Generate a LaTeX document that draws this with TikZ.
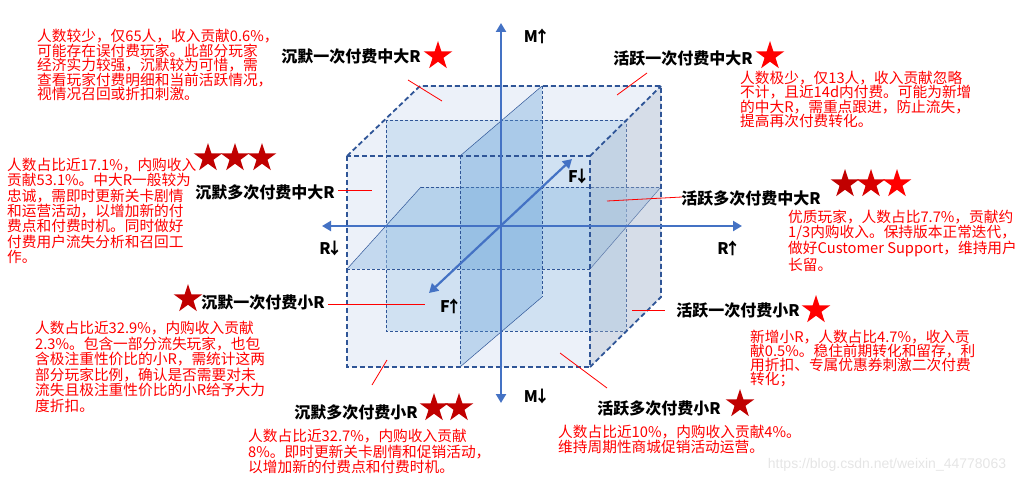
\documentclass[tikz,border=0pt]{standalone}
\usepackage{fontspec}
\setmainfont{Noto Sans CJK SC}
\newfontfamily\wmfont{Liberation Sans}
\usetikzlibrary{arrows.meta,shapes.geometric}
\definecolor{axisblue}{HTML}{4472C4}
\definecolor{edgeblue}{HTML}{2F5597}
\definecolor{darkred}{HTML}{C00000}
\definecolor{midred}{HTML}{D80000}
\definecolor{cubefill}{HTML}{DAE3F3}
\definecolor{sidefill}{HTML}{ADB9CA}
\definecolor{innerfill}{HTML}{BDD7EE}
\definecolor{hplanefill}{HTML}{9DC3E6}
\definecolor{vplanefill}{HTML}{5B9BD5}
\tikzset{
  note/.style={anchor=north west, inner sep=0pt, align=left, text=red,
    font=\fontsize{14.7}{#1}\selectfont},
  cat/.style={inner sep=0pt, font=\fontsize{16}{16}\selectfont\bfseries},
  axl/.style={inner sep=0pt, font=\fontsize{16}{16}\selectfont\bfseries},
  rstar/.style={shape=star, star points=5, star point ratio=2.618,
    minimum size=30pt, inner sep=0pt, fill=#1, draw=none},
  axisline/.style={draw=axisblue, line width=2.6pt,
    {Triangle[length=9pt,width=10pt]}-{Triangle[length=9pt,width=10pt]}},
  edge/.style={draw=edgeblue, line width=1.8pt, dash pattern=on 5pt off 3pt},
  thinedge/.style={draw=edgeblue, line width=0.6pt, dash pattern=on 3pt off 2pt},
  leader/.style={draw=red, line width=0.8pt},
}
\begin{document}
\begin{tikzpicture}[x=1pt,y=-1pt]
\useasboundingbox (0,0) rectangle (1032,484);
% cube corners
\coordinate (FTL) at (347,156);
\coordinate (FTR) at (590,156);
\coordinate (FBR) at (590,367);
\coordinate (FBL) at (347,367);
\coordinate (BTL) at (420,86);
\coordinate (BTR) at (661,86);
\coordinate (BBR) at (661,297);
% inner plane (F middle)
\coordinate (ITL) at (386,120);
\coordinate (ITR) at (626,120);
\coordinate (IBR) at (626,331);
\coordinate (IBL) at (386,331);
% horizontal plane
\coordinate (HFL) at (347,269);
\coordinate (HFR) at (590,269);
\coordinate (HBR) at (661,187);
\coordinate (HBL) at (421,187);
% vertical plane
\coordinate (VFT) at (460,156);
\coordinate (VBT) at (542,86);
\coordinate (VBB) at (542,297);
\coordinate (VFB) at (460,367);

% cube silhouette
\fill[cubefill, fill opacity=0.5] (FTL) -- (BTL) -- (BTR) -- (BBR) -- (FBR) -- (FBL) -- cycle;
% inner plane
\fill[innerfill, fill opacity=0.6] (ITL) rectangle (IBR);
\draw[thinedge] (ITL) rectangle (IBR);
% horizontal plane
\fill[hplanefill, fill opacity=0.5] (HFL) -- (HBL) -- (HBR) -- (HFR) -- cycle;
\draw[thinedge] (HFL) -- (HFR);
\draw[thinedge] (HBL) -- (HBR);
\draw[draw=edgeblue, line width=0.5pt] (HFL) -- (HBL);
\draw[draw=edgeblue, line width=0.5pt] (HFR) -- (HBR);
% vertical plane
\fill[vplanefill, fill opacity=0.32] (VFT) -- (VBT) -- (VBB) -- (VFB) -- cycle;
\draw[thinedge] (VFT) -- (VFB);
\draw[thinedge] (VBT) -- (VBB);
\draw[draw=edgeblue, line width=0.5pt] (VFT) -- (VBT);
\draw[draw=edgeblue, line width=0.5pt] (VFB) -- (VBB);
% right side face
\fill[sidefill, fill opacity=0.35] (FTR) -- (BTR) -- (BBR) -- (FBR) -- cycle;
% cube edges
\draw[edge] (FTL) rectangle (FBR);
\draw[edge] (FTL) -- (BTL) -- (BTR) -- (BBR) -- (FBR);
\draw[edge] (FTR) -- (BTR);

% axes
\coordinate (mtop) at (501,23);
\coordinate (mbot) at (501,403);
\coordinate (rleft) at (322,226);
\coordinate (rright) at (742,226);
\coordinate (ftop) at (572,159);
\coordinate (fbot) at (429,293);
\draw[axisline] (mbot) -- (mtop);
\draw[axisline] (rleft) -- (rright);
\draw[axisline, line width=2.2pt] (fbot) -- (ftop);

\node[axl] (Mup) at (537,36) {M\kern-4pt↑};
\node[axl] (Mdn) at (537,396) {M\kern-4pt↓};
\node[axl] (Rdn) at (331,248) {R\kern-4pt↓};
\node[axl] (Rup) at (729,248) {R\kern-4pt↑};
\node[axl] (Fdn) at (579,176) {F\kern-4pt↓};
\node[axl] (Fup) at (451,306) {F\kern-4pt↑};

% category labels
\node[cat] (c1) at (351,57) {沉默一次付费中大R};
\node[cat] (c2) at (683,58) {活跃一次付费中大R};
\node[cat] (c3) at (265,192) {沉默多次付费中大R};
\node[cat] (c4) at (751,198) {活跃多次付费中大R};
\node[cat] (c5) at (263,303) {沉默一次付费小R};
\node[cat] (c6) at (738,310) {活跃一次付费小R};
\node[cat] (c7) at (356,412) {沉默多次付费小R};
\node[cat] (c8) at (659,408) {活跃多次付费小R};

% stars
\node[rstar=red] (s1) at (438,56) {};
\node[rstar=red] (s2) at (770,56) {};
\node[rstar=darkred] (s3a) at (208,158) {};
\node[rstar=darkred] (s3b) at (235,158) {};
\node[rstar=darkred] (s3c) at (262,158) {};
\node[rstar=darkred] (s4a) at (845,184) {};
\node[rstar=midred] (s4b) at (871,184) {};
\node[rstar=red] (s4c) at (897,184) {};
\node[rstar=darkred] (s5) at (188,299) {};
\node[rstar=red] (s6) at (816,310) {};
\node[rstar=darkred] (s7a) at (434,408) {};
\node[rstar=darkred] (s7b) at (459,408) {};
\node[rstar=darkred] (s8) at (740,404) {};

% leader lines
\coordinate (l1a) at (408,80);  \coordinate (l1b) at (442,101);
\coordinate (l2a) at (647,73);  \coordinate (l2b) at (617,95);
\coordinate (l3a) at (338,190); \coordinate (l3b) at (372,190);
\coordinate (l4a) at (607,201); \coordinate (l4b) at (682,197);
\coordinate (l5a) at (328,304); \coordinate (l5b) at (425,304);
\coordinate (l6a) at (632,310); \coordinate (l6b) at (665,310);
\coordinate (l7a) at (387,360); \coordinate (l7b) at (372,385);
\coordinate (l8a) at (560,353); \coordinate (l8b) at (607,388);
\draw[leader] (l1a) -- (l1b);
\draw[leader] (l2a) -- (l2b);
\draw[leader] (l3a) -- (l3b);
\draw[leader] (l4a) -- (l4b);
\draw[leader] (l5a) -- (l5b);
\draw[leader] (l6a) -- (l6b);
\draw[leader] (l7a) -- (l7b);
\draw[leader] (l8a) -- (l8b);

% notes
\node[note=14.5] (n1) at (37,29) {人数较少，仅65人，收入贡献0.6\%，\\可能存在误付费玩家。此部分玩家\\经济实力较强，沉默较为可惜，需\\查看玩家付费明细和当前活跃情况，\\视情况召回或折扣刺激。};
\node[note=14.3] (n2) at (740,71) {人数极少，仅13人，收入贡献忽略\\不计，且近14d内付费。可能为新增\\的中大R，需重点跟进，防止流失，\\提高再次付费转化。};
\node[note=15.3] (n3) at (7,158) {人数占比近17.1\%，内购收入\\贡献53.1\%。中大R一般较为\\忠诚，需即时更新关卡剧情\\和运营活动，以增加新的付\\费点和付费时机。同时做好\\付费用户流失分析和召回工\\作。};
\node[note=13.6] (n4) at (788,210) {优质玩家，人数占比7.7\%，贡献约\\1/3内购收入。保持版本正常迭代，\\做好Customer Support，维持用户\\长留。};
\node[note=15.5] (n5) at (35,321) {人数占比近32.9\%，内购收入贡献\\2.3\%。包含一部分流失玩家，也包\\含极注重性价比的小R，需统计这两\\部分玩家比例，确认是否需要对未\\流失且极注重性价比的小R给予大力\\度折扣。};
\node[note=14] (n6) at (750,330) {新增小R，人数占比4.7\%，收入贡\\献0.5\%。稳住前期转化和留存，利\\用折扣、专属优惠券刺激二次付费\\转化；};
\node[note=15.5] (n7) at (248,429) {人数占比近32.7\%，内购收入贡献\\8\%。即时更新关卡剧情和促销活动，\\以增加新的付费点和付费时机。};
\node[note=15] (n8) at (558,425) {人数占比近10\%，内购收入贡献4\%。\\维持周期性商城促销活动运营。};

% watermark
\node[inner sep=0pt, text=black!10, font=\wmfont\fontsize{14}{14}\selectfont] (wm) at (887,465) {https://blog.csdn.net/weixin\_44778063};
\end{tikzpicture}
\end{document}
